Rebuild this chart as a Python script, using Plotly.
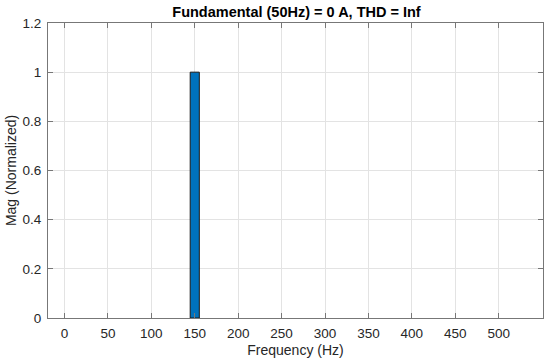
import plotly.graph_objects as go

freqs = [150]
mags = [1.0]
x_ticks = [0, 50, 100, 150, 200, 250, 300, 350, 400, 450, 500]
y_ticks = [0, 0.2, 0.4, 0.6, 0.8, 1.0, 1.2]
title = "Fundamental (50Hz) = 0 A, THD = Inf"

fig = go.Figure(go.Bar(
    x=freqs, y=mags, width=10.5,
    marker=dict(color="#0072BD", line=dict(color="#1a1a1a", width=1)),
))

axis_common = dict(
    showline=True, mirror="ticks", linecolor="#777777", linewidth=1,
    ticks="inside", ticklen=5, tickcolor="#777777",
    showgrid=True, gridcolor="#e3e3e3", gridwidth=1,
    zeroline=False, automargin=False, ticklabelstandoff=3,
    tickfont=dict(family="Liberation Sans, Arial", size=13.5, color="#262626"),
)

fig.update_layout(
    width=550, height=364,
    margin=dict(l=48, r=7, t=23, b=46),
    paper_bgcolor="white", plot_bgcolor="white",
    showlegend=False,
    title=dict(text="<b>" + title + "</b>", x=296.5 / 550, xanchor="center",
               y=1 - 12 / 364, yanchor="middle",
               font=dict(family="Liberation Sans, Arial", size=14.5, color="#000000")),
    xaxis=dict(range=[-19, 551], tickvals=x_ticks,
               title=dict(text="Frequency (Hz)", standoff=4,
                          font=dict(family="Liberation Sans, Arial", size=14, color="#262626")),
               **axis_common),
    yaxis=dict(range=[0, 1.2], tickvals=y_ticks,
               title=dict(text="Mag (Normalized)", standoff=2,
                          font=dict(family="Liberation Sans, Arial", size=14, color="#262626")),
               **axis_common),
)

fig.write_html("out.html", config={"displayModeBar": False},
               post_script="document.body.style.margin='0';")
